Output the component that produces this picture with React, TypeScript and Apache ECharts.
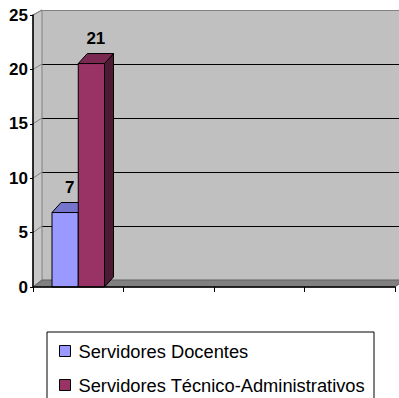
import React, { useEffect, useRef } from "react";
import * as echarts from "echarts";

const categories = ["", "", "", ""];
const seriesNames = ["Servidores Docentes", "Servidores Técnico-Administrativos"];
const docentes = [7];
const tecnicos = [21];
const yTicks = [0, 5, 10, 15, 20, 25];

const DX = 9;
const DY = 10;
const FONT = "'Liberation Sans', Arial, sans-serif";

const faceColors = [
  { front: "#9999ff", top: "#7575cc", side: "#4d4d80" },
  { front: "#993366", top: "#7a2952", side: "#4c1a33" },
];

function barRender(idx: number, label: boolean) {
  return (params: any, api: any) => {
    const v = api.value(1);
    const p0 = api.coord([api.value(0), 0]);
    const p1 = api.coord([api.value(0), v]);
    const band = api.size([1, 0])[0];
    const w = band * 0.29;
    const x = p0[0] - w + idx * w;
    const top = p1[1];
    const bottom = p0[1];
    const c = faceColors[idx];
    const stroke = { stroke: "#000", lineWidth: 1 };
    const children: any[] = [
      {
        type: "polygon",
        shape: { points: [[x + w, top], [x + w + DX, top - DY], [x + w + DX, bottom - DY], [x + w, bottom]] },
        style: { fill: c.side, ...stroke },
      },
      {
        type: "polygon",
        shape: { points: [[x, top], [x + DX, top - DY], [x + w + DX, top - DY], [x + w, top]] },
        style: { fill: c.top, ...stroke },
      },
      {
        type: "rect",
        shape: { x, y: top, width: w, height: bottom - top },
        style: { fill: c.front, ...stroke },
      },
    ];
    if (label) {
      children.push({
        type: "text",
        x: x + w / 2 + DX / 2,
        y: top - DY - 15,
        style: {
          text: String(v),
          fill: "#000",
          font: `bold 17px ${FONT}`,
          align: "center",
          verticalAlign: "middle",
        },
      });
    }
    return { type: "group", children };
  };
}

export default function App() {
  const ref = useRef<HTMLDivElement>(null);
  useEffect(() => {
    document.body.style.margin = "0";
    if (!ref.current) return;
    const chart = echarts.init(ref.current, undefined, { renderer: "svg" });

    const frameRender = (params: any, api: any) => {
      const cs = params.coordSys;
      const left = cs.x;
      const right = cs.x + cs.width;
      const bottom = cs.y + cs.height;
      const topY = cs.y;
      const children: any[] = [];
      children.push({
        type: "polygon",
        shape: { points: [[left, topY], [left + DX, topY - 5], [left + DX, bottom - 7], [left, bottom]] },
        style: { fill: "#c8c8c8", stroke: "#808080", lineWidth: 1 },
      });
      yTicks.forEach((t) => {
        if (t === 0) return;
        const y = api.coord([0, t])[1];
        const dy = 7 - (2 * t) / 25;
        children.push({
          type: "line",
          shape: { x1: left, y1: y, x2: left + DX, y2: y - dy },
          style: { stroke: "#808080", lineWidth: 1 },
        });
      });
      children.push({
        type: "polygon",
        shape: { points: [[left, bottom], [left + DX, bottom - 7], [right + DX, bottom - 7], [right, bottom]] },
        style: { fill: "#808080", stroke: "#606060", lineWidth: 1 },
      });
      return { type: "group", children };
    };

    chart.setOption({
      animation: false,
      backgroundColor: "#fff",
      grid: [
        { left: 33, top: 15, width: 362, height: 272 },
        { left: 42, top: 10, width: 362, height: 270, show: true, backgroundColor: "#c0c0c0", borderWidth: 0 },
        { left: 33, top: 21, width: 362, height: 266 },
      ],
      xAxis: [
        {
          gridIndex: 0,
          type: "category",
          data: categories,
          z: 10,
          axisLine: { lineStyle: { color: "#000", width: 1.5 } },
          axisTick: { show: true, interval: 0, length: 5, lineStyle: { color: "#000" } },
          axisLabel: { show: false },
        },
        { gridIndex: 1, type: "category", data: categories, show: false },
        { gridIndex: 2, type: "category", data: categories, show: false },
      ],
      yAxis: [
        {
          gridIndex: 0,
          type: "value",
          min: 0,
          max: 25,
          interval: 5,
          z: 10,
          axisLine: { show: true, lineStyle: { color: "#000", width: 1.5 } },
          axisTick: { show: true, length: 3, lineStyle: { color: "#000" } },
          axisLabel: { margin: 5, color: "#000", fontWeight: "bold", fontSize: 17, fontFamily: FONT },
          splitLine: { show: false },
        },
        {
          gridIndex: 1,
          type: "value",
          min: 0,
          max: 25,
          interval: 5,
          axisLine: { show: false },
          axisTick: { show: false },
          axisLabel: { show: false },
          splitLine: {
            show: true,
            lineStyle: { color: ["#808080", "#000", "#000", "#000", "#000", "#808080"], width: 1.2 },
          },
        },
        { gridIndex: 2, type: "value", min: 0, max: 25, show: false },
      ],
      legend: {
        orient: "vertical",
        left: 47,
        top: 332,
        height: 90,
        padding: [10, 9, 12, 12],
        itemGap: 16,
        itemWidth: 11,
        itemHeight: 11,
        itemStyle: { borderColor: "#000", borderWidth: 1 },
        icon: "rect",
        borderColor: "#000",
        borderWidth: 1,
        backgroundColor: "#fff",
        textStyle: { fontSize: 18.3, fontFamily: FONT, color: "#000", padding: [0, 0, 0, 3] },
        data: seriesNames,
      },
      series: [
        {
          type: "custom",
          name: "frame",
          xAxisIndex: 0,
          yAxisIndex: 0,
          z: 1,
          silent: true,
          data: [[0, 0]],
          renderItem: frameRender,
        },
        {
          type: "custom",
          name: seriesNames[0],
          xAxisIndex: 2,
          yAxisIndex: 2,
          z: 2,
          itemStyle: { color: faceColors[0].front },
          data: docentes.map((v, i) => [i, v]),
          renderItem: barRender(0, true),
        },
        {
          type: "custom",
          name: seriesNames[1],
          xAxisIndex: 2,
          yAxisIndex: 2,
          z: 3,
          itemStyle: { color: faceColors[1].front },
          data: tecnicos.map((v, i) => [i, v]),
          renderItem: barRender(1, true),
        },
      ],
    });
    return () => chart.dispose();
  }, []);
  return <div ref={ref} style={{ width: 399, height: 398 }} />;
}
